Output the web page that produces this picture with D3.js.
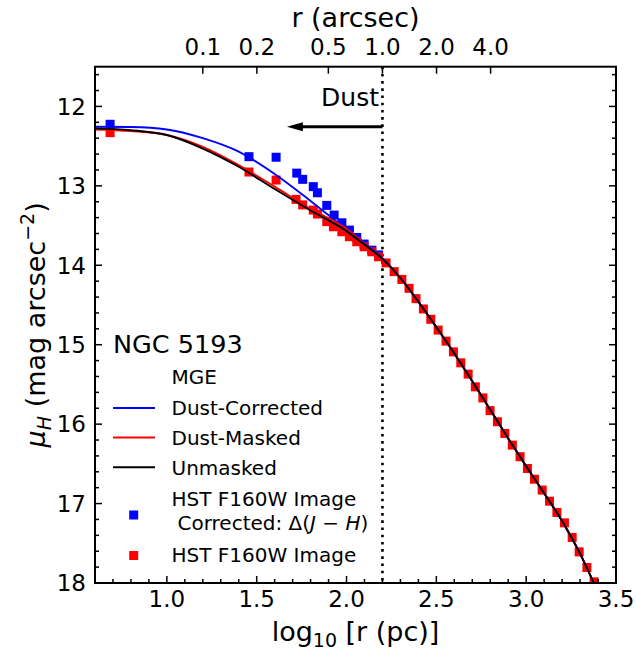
<!DOCTYPE html>
<html><head><meta charset="utf-8">
<script src="https://cdn.jsdelivr.net/npm/d3@7"></script>
<style>body{margin:0;background:#fff}svg{display:block}text{font-family:"DejaVu Sans",sans-serif}</style>
</head><body>
<script>
// ---- data ----
const xTicks = [1.0, 1.5, 2.0, 2.5, 3.0, 3.5];
const yTicks = [12, 13, 14, 15, 16, 17, 18];
const arcsecTicks = [0.1, 0.2, 0.5, 1.0, 2.0, 4.0];
const arcsecLabels = ["0.1", "0.2", "0.5", "1.0", "2.0", "4.0"];
const logPcPerArcsec = 2.2;
const dustRadius = 2.2;
const arrowTip = 1.668;
const arrowMu = 12.256;

const redLogR = [0.684, 1.457, 1.608, 1.719, 1.756, 1.815, 1.838, 1.89, 1.927, 1.974, 2.016, 2.057, 2.098, 2.141, 2.178, 2.22, 2.265, 2.308, 2.348, 2.387, 2.428, 2.469, 2.51, 2.554, 2.595, 2.636, 2.677, 2.717, 2.759, 2.799, 2.84, 2.881, 2.923, 2.966, 3.007, 3.046, 3.089, 3.13, 3.171, 3.213, 3.256, 3.295, 3.338, 3.378];
const redMu = [12.33, 12.826, 12.927, 13.17, 13.24, 13.305, 13.355, 13.45, 13.515, 13.578, 13.64, 13.704, 13.767, 13.83, 13.893, 13.97, 14.08, 14.178, 14.29, 14.42, 14.55, 14.68, 14.816, 14.955, 15.09, 15.228, 15.37, 15.53, 15.67, 15.83, 15.97, 16.117, 16.264, 16.41, 16.558, 16.693, 16.83, 16.97, 17.112, 17.243, 17.427, 17.608, 17.805, 17.986];

const blueLogR = [0.684, 1.457, 1.608, 1.723, 1.756, 1.815, 1.838, 1.89, 1.931, 1.974, 2.016, 2.057, 2.098, 2.141, 2.178];
const blueMu = [12.225, 12.633, 12.64, 12.84, 12.918, 13.01, 13.087, 13.246, 13.368, 13.465, 13.557, 13.65, 13.733, 13.81, 13.87];

const mgeLogR = [0.6, 0.8, 1.0, 1.2, 1.4, 1.6, 1.8, 2.0, 2.1, 2.2, 2.3, 2.4, 2.5, 2.6, 2.7, 2.8, 2.9, 3.0, 3.1, 3.2, 3.3, 3.4];
const mgeCorrected = [12.256, 12.26, 12.29, 12.40, 12.57, 12.85, 13.19, 13.55, 13.72, 13.91, 14.16, 14.46, 14.78, 15.11, 15.46, 15.82, 16.18, 16.53, 16.87, 17.22, 17.63, 18.12];
const mgeMasked = [12.29, 12.31, 12.36, 12.51, 12.74, 13.01, 13.29, 13.54, 13.73, 13.92, 14.16, 14.46, 14.78, 15.11, 15.46, 15.82, 16.18, 16.53, 16.87, 17.22, 17.63, 18.12];
const mgeUnmasked = [12.276, 12.30, 12.36, 12.53, 12.76, 13.04, 13.31, 13.57, 13.74, 13.92, 14.16, 14.46, 14.78, 15.11, 15.46, 15.82, 16.18, 16.53, 16.87, 17.22, 17.63, 18.12];

// ---- layout ----
const W = 636, H = 655;
const L = 95, R = 616, T = 66.7, B = 583;
const x = d3.scaleLinear().domain([0.6, 3.5]).range([L, R]);
const y = d3.scaleLinear().domain([11.5, 18]).range([T, B]);

const svg = d3.select("body").append("svg").attr("width", W).attr("height", H);
svg.append("defs").append("clipPath").attr("id", "clip")
  .append("rect").attr("x", L).attr("y", T).attr("width", R - L).attr("height", B - T);

const plot = svg.append("g").attr("clip-path", "url(#clip)");

// dotted dust line
plot.append("line").attr("x1", x(dustRadius)).attr("x2", x(dustRadius)).attr("y1", T).attr("y2", B)
  .attr("stroke", "#000").attr("stroke-width", 2.6).attr("stroke-dasharray", "2.6,4.6");

// arrow
const ax0 = x(dustRadius), ax1 = x(arrowTip), ay = y(arrowMu);
plot.append("line").attr("x1", ax0).attr("x2", ax1 + 12).attr("y1", ay).attr("y2", ay)
  .attr("stroke", "#000").attr("stroke-width", 3);
plot.append("path").attr("d", `M${ax1},${ay} L${ax1 + 16},${ay - 4.5} L${ax1 + 16},${ay + 4.5} Z`).attr("fill", "#000");

svg.append("text").attr("x", 379).attr("y", 106).attr("text-anchor", "end")
  .attr("font-size", 25).text("Dust");

const ms = 9;
plot.selectAll(".bsq").data(blueLogR).enter().append("rect")
  .attr("x", (d) => x(d) - ms / 2).attr("y", (d, i) => y(blueMu[i]) - ms / 2)
  .attr("width", ms).attr("height", ms).attr("fill", "#0000ff");
plot.selectAll(".rsq").data(redLogR).enter().append("rect")
  .attr("x", (d) => x(d) - ms / 2).attr("y", (d, i) => y(redMu[i]) - ms / 2)
  .attr("width", ms).attr("height", ms).attr("fill", "#ff0000");

const line = d3.line().x((d) => x(d[0])).y((d) => y(d[1])).curve(d3.curveMonotoneX);
const series = [[mgeCorrected, "#0000ff"], [mgeMasked, "#ff0000"], [mgeUnmasked, "#000000"]];
series.forEach(([vals, col]) => {
  plot.append("path").attr("d", line(mgeLogR.map((r, i) => [r, vals[i]])))
    .attr("fill", "none").attr("stroke", col).attr("stroke-width", 1.9);
});

// ---- axes ----
const minorX = d3.range(6, 36).map((v) => v / 10);
const minorY = d3.range(0, 33).map((v) => 11.6 + v * 0.2).filter((v) => v < 18.01);
const axes = svg.append("g").attr("stroke", "#000");
minorX.forEach((v) => {
  const major = Math.abs(v * 2 - Math.round(v * 2)) < 1e-6;
  axes.append("line").attr("x1", x(v)).attr("x2", x(v)).attr("y1", B).attr("y2", B - (major ? 7 : 4)).attr("stroke-width", 1.5);
});
minorY.forEach((v) => {
  const major = Math.abs(v - Math.round(v)) < 1e-6;
  const len = major ? 7 : 4;
  axes.append("line").attr("x1", L).attr("x2", L + len).attr("y1", y(v)).attr("y2", y(v)).attr("stroke-width", 1.5);
  axes.append("line").attr("x1", R).attr("x2", R - len).attr("y1", y(v)).attr("y2", y(v)).attr("stroke-width", 1.5);
});
arcsecTicks.forEach((a) => {
  const xv = x(Math.log10(a) + logPcPerArcsec);
  axes.append("line").attr("x1", xv).attr("x2", xv).attr("y1", T).attr("y2", T + 7).attr("stroke-width", 1.5);
});
svg.append("rect").attr("x", L).attr("y", T).attr("width", R - L).attr("height", B - T)
  .attr("fill", "none").attr("stroke", "#000").attr("stroke-width", 2);

const tfs = 23;
xTicks.forEach((v) => {
  svg.append("text").attr("x", x(v)).attr("y", 607).attr("text-anchor", "middle").attr("font-size", tfs).text(v.toFixed(1));
});
yTicks.forEach((v) => {
  svg.append("text").attr("x", 86).attr("y", y(v) + 8.3).attr("text-anchor", "end").attr("font-size", tfs).text(v);
});
arcsecTicks.forEach((a, i) => {
  svg.append("text").attr("x", x(Math.log10(a) + logPcPerArcsec)).attr("y", 55).attr("text-anchor", "middle").attr("font-size", tfs).text(arcsecLabels[i]);
});

// axis titles
svg.append("text").attr("x", (L + R) / 2).attr("y", 27).attr("text-anchor", "middle").attr("font-size", 27).text("r (arcsec)");
const xl = svg.append("text").attr("x", (L + R) / 2).attr("y", 641).attr("text-anchor", "middle").attr("font-size", 27);
xl.append("tspan").text("log");
xl.append("tspan").attr("font-size", 19).attr("dy", 6).text("10");
xl.append("tspan").attr("dy", -6).text(" [r (pc)]");

const yl = svg.append("text").attr("transform", `translate(45,${(T + B) / 2}) rotate(-90)`).attr("text-anchor", "middle").attr("font-size", 27);
yl.append("tspan").attr("font-style", "italic").text("μ");
yl.append("tspan").attr("font-style", "italic").attr("font-size", 19).attr("dy", 6).text("H");
yl.append("tspan").attr("dy", -6).text(" (mag arcsec");
yl.append("tspan").attr("font-size", 19).attr("dy", -11).text("−2");
yl.append("tspan").attr("dy", 11).text(")");

// ---- legend ----
svg.append("text").attr("x", 113).attr("y", 353).attr("font-size", 25.5).text("NGC 5193");
const lfs = 20;
const legendItems = [
  { label: "MGE", y: 377, type: null },
  { label: "Dust-Corrected", y: 408, type: "line", color: "#0000ff" },
  { label: "Dust-Masked", y: 437.5, type: "line", color: "#ff0000" },
  { label: "Unmasked", y: 467.3, type: "line", color: "#000000" },
];
legendItems.forEach((it) => {
  if (it.type === "line") {
    svg.append("line").attr("x1", 113).attr("x2", 155).attr("y1", it.y).attr("y2", it.y).attr("stroke", it.color).attr("stroke-width", 1.9);
  }
  svg.append("text").attr("x", 171.5).attr("y", it.y + 7.2).attr("font-size", lfs).text(it.label);
});
svg.append("rect").attr("x", 133.7 - 4.5).attr("y", 515 - 4.5).attr("width", 9).attr("height", 9).attr("fill", "#0000ff");
svg.append("text").attr("x", 171.5).attr("y", 499 + 7.2).attr("font-size", lfs).text("HST F160W Image");
const ct = svg.append("text").attr("x", 177.5).attr("y", 522.3 + 7.2).attr("font-size", lfs);
ct.append("tspan").text("Corrected: Δ(");
ct.append("tspan").attr("font-style", "italic").text("J");
ct.append("tspan").text(" − ");
ct.append("tspan").attr("font-style", "italic").text("H");
ct.append("tspan").text(")");
svg.append("rect").attr("x", 133.7 - 4.5).attr("y", 555.5 - 4.5).attr("width", 9).attr("height", 9).attr("fill", "#ff0000");
svg.append("text").attr("x", 171.5).attr("y", 555 + 7.2).attr("font-size", lfs).text("HST F160W Image");
</script>
</body></html>
